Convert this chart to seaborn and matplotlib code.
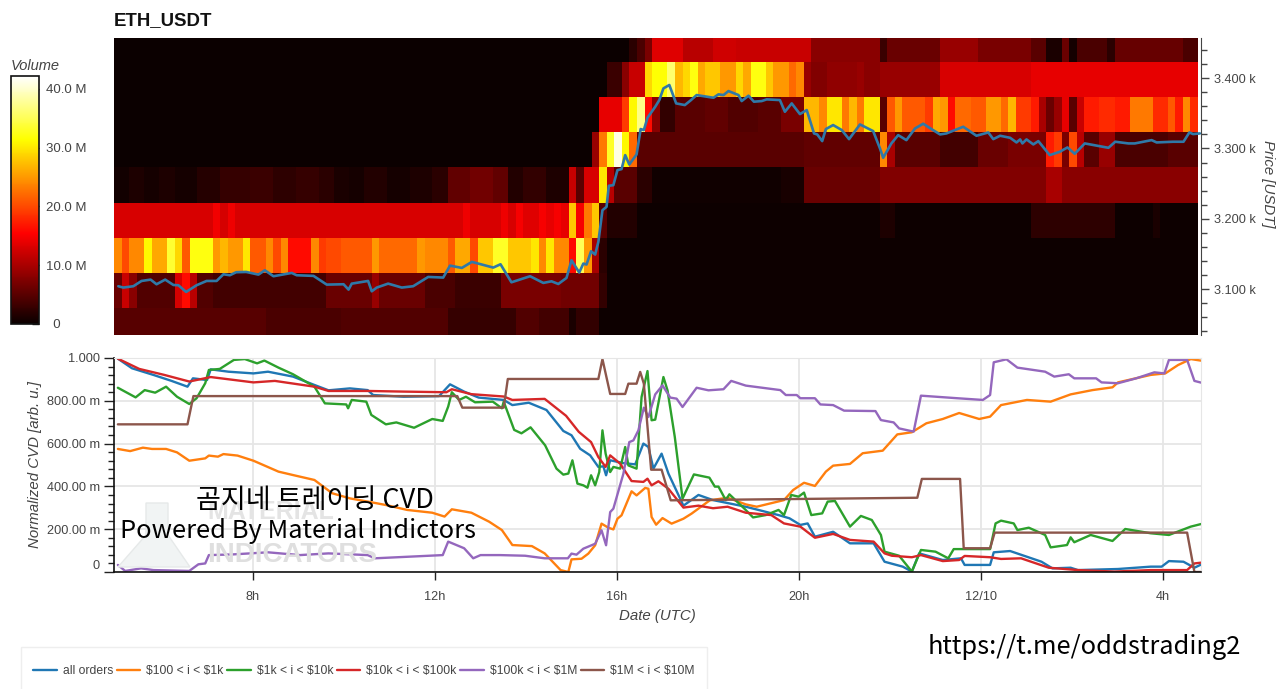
import numpy as np
import pandas as pd
import matplotlib
matplotlib.use('Agg')
import matplotlib.pyplot as plt
from matplotlib.patches import Polygon, Rectangle
import seaborn as sns

sns.set_style('white')
plt.rcParams['font.family'] = ['Liberation Sans', 'Noto Sans CJK KR', 'DejaVu Sans']

# Volume heatmap: 10 minute bins, each row is (first bin of a run, volume in M)
n_bins = 143
price_bins = [3448, 3398, 3348, 3298, 3248, 3198, 3148, 3098, 3048]

r3448_s = [0, 68, 69, 70, 71, 75, 79, 82, 92, 101, 102, 109, 114, 121, 123, 125, 126, 127, 131, 132, 141]
r3448_v = [0.1, 2, 4, 7, 13.5, 11, 12.5, 12, 8, 3, 6, 9, 7, 5, 1, 6, 0.7, 4, 2, 5.8, 4]

r3398_s = [0, 65, 67, 68, 70, 71, 73, 74, 75, 76, 77, 78, 80, 82, 83, 84, 86, 87, 89, 90, 91, 92, 94, 98, 99, 101, 109, 121]
r3398_v = [0.1, 3, 8, 12, 29, 31.5, 36, 27, 29, 32, 26, 28, 25, 29, 26, 32, 28, 25, 22, 24, 9, 7.5, 8.5, 9, 8, 9, 13, 14]

r3348_s = [0, 64, 67, 68, 69, 70, 71, 72, 74, 78, 81, 85, 88, 91, 93, 94, 96, 97, 98, 99, 101, 102, 103, 104, 107, 108,
           109, 110, 111, 113, 115, 117, 118, 119, 121, 122, 123, 124, 125, 126, 127, 128, 130, 132, 134, 137, 139, 140, 141, 142]
r3348_v = [0.1, 14, 19, 31, 37, 16, 8, 2.5, 5, 5.5, 4.5, 5, 7, 27, 24, 30, 23, 27, 23, 30, 5, 21, 25, 21, 19, 26,
           25, 16, 22, 21, 25, 22, 27, 19, 17, 10, 6, 9, 14, 5, 12, 17, 18, 17, 23, 18, 21, 17, 24, 18]

r3298_s = [0, 63, 64, 65, 66, 67, 68, 69, 91, 101, 102, 103, 109, 114, 118, 123, 124, 125, 126, 127, 128, 130, 132, 139]
r3298_v = [0.1, 9, 23, 33, 41, 31, 22, 5, 5.5, 24, 10, 5, 3.5, 6, 7, 17, 19, 7, 20, 11, 5, 9, 4, 5]

r3248_s = [0, 2, 4, 6, 8, 11, 14, 18, 21, 24, 27, 29, 31, 33, 36, 39, 42, 44, 47, 50, 52, 54, 57, 60, 61, 62, 64, 65, 66,
           69, 71, 88, 91, 101, 123, 125]
r3248_v = [0.5, 1.2, 0.7, 1.3, 0.7, 1.8, 2.8, 3, 2.2, 2.8, 2, 1, 0.8, 1.6, 0.8, 1.2, 2, 5.5, 6.5, 5.5, 1.5, 2.5, 1.2, 12, 5, 13, 30, 11, 5,
           2, 0.4, 0.9, 6, 7.5, 10, 8]

r3198_s = [0, 13, 14, 15, 16, 46, 47, 51, 52, 53, 54, 56, 57, 58, 59, 60, 61, 62, 63, 64, 65, 69, 101, 103, 121, 132, 137, 138]
r3198_v = [13, 14.6, 12.7, 14.4, 13, 14.4, 13, 14.4, 13, 15, 13.5, 15, 14, 15, 14, 28, 15, 23, 28, 5, 1.5, 0.3, 1.2, 0.2, 2.2, 0.2, 1, 0.2]

r3148_s = [0, 1, 2, 4, 5, 7, 8, 9, 10, 13, 14, 15, 17, 18, 20, 21, 22, 23, 26, 27, 28, 30, 34, 35, 40, 41, 44, 45, 47, 48,
           50, 52, 55, 56, 57, 58, 60, 61, 62, 63, 64, 65]
r3148_v = [24, 20, 24, 31, 26, 33.5, 29, 21, 32, 25, 27, 25, 30, 21, 24, 20, 24, 16, 24, 19, 20, 21, 25, 22, 25, 24, 21, 26, 20, 28,
           33, 28, 30, 24, 30, 24, 16, 35, 25, 10, 2, 0.2]

r3098_s = [0, 1, 2, 3, 8, 9, 10, 11, 13, 28, 34, 35, 41, 45, 51, 59, 64, 65]
r3098_v = [6, 12, 8, 4.5, 13, 16, 11, 4.5, 3.5, 6, 9, 6, 4, 3, 7, 6.5, 2.5, 0.2]

r3048_s = [0, 20, 30, 44, 53, 56, 60, 61, 64]
r3048_v = [4.8, 4, 4.5, 2.8, 4.5, 3.5, 1, 2.5, 0.2]

# Price line: hours since 12/09 00:00 and price in USDT
price_t = [5.04, 5.15, 5.37, 5.55, 5.75, 5.88, 6.07, 6.25, 6.36, 6.53, 6.76, 6.98, 7.20, 7.35, 7.49, 7.63, 7.85, 8.12, 8.26, 8.45,
           8.85, 8.96, 9.33, 9.62, 9.99, 10.1, 10.17, 10.53, 10.61, 10.72, 10.97, 11.27, 11.52, 11.85, 12.18, 12.33, 12.59, 12.81,
           13.28, 13.44, 13.68, 14.09, 14.38, 14.56, 14.71, 14.89, 15.0, 15.17, 15.26, 15.33, 15.43, 15.52, 15.59, 15.68, 15.77,
           15.82, 15.92, 16.01, 16.10, 16.18, 16.27, 16.43, 16.52, 16.59, 16.67, 16.84, 16.93, 17.02, 17.15, 17.30, 17.49, 17.61,
           17.75, 18.12, 18.23, 18.34, 18.45, 18.67, 18.74, 18.89, 19.01, 19.18, 19.29, 19.58, 19.69, 19.84, 20.02, 20.17, 20.33,
           20.40, 20.51, 20.59, 20.75, 20.94, 21.10, 21.34, 21.63, 21.78, 21.85, 22.03, 22.18, 22.36, 22.55, 22.73, 22.91, 23.10,
           23.24, 23.61, 23.90, 24.16, 24.27, 24.42, 24.64, 24.78, 24.86, 24.91, 25.0, 25.15, 25.26, 25.51, 25.73, 25.90, 26.06,
           26.28, 26.80, 26.95, 27.24, 27.38, 27.75, 27.86, 28.22, 28.45, 28.58, 28.66, 28.81]
price_v = [3104.3, 3102.4, 3104.3, 3111.8, 3113.7, 3107.1, 3113.7, 3106.1, 3105.7, 3096.2, 3105.7, 3111.8, 3111.8, 3121.3, 3119.9, 3124.2,
           3124.6, 3120.8, 3127, 3118.5, 3123.2, 3119.9, 3119, 3106.6, 3107.1, 3099.5, 3108, 3111.8, 3097.1, 3102.4, 3108, 3102.4, 3104.3,
           3117.5, 3116.6, 3133.6, 3130.3, 3138.9, 3130.8, 3135.5, 3109.9, 3118.5, 3109, 3111.3, 3107.5, 3116.1, 3141.2, 3123.7, 3136.5,
           3135.1, 3154, 3149.3, 3167.3, 3212.3, 3217.1, 3247, 3247.9, 3269.3, 3270.7, 3290.6, 3277.3, 3291.5, 3327.6, 3326.2, 3343.7,
           3359.3, 3368.8, 3385.4, 3390.2, 3364.1, 3361.7, 3367.9, 3375.9, 3372.1, 3376.9, 3375.9, 3381.6, 3375.9, 3367.4, 3375, 3366.5,
           3367.4, 3369.8, 3368.8, 3352.2, 3364.1, 3348.9, 3354.6, 3321.4, 3320, 3310.5, 3327.6, 3333.3, 3326.2, 3313.3, 3334.2, 3324.7,
           3300, 3286.8, 3307.2, 3319, 3311.9, 3328.5, 3335.2, 3327.6, 3320, 3321.4, 3330.9, 3318.1, 3322.8, 3313.3, 3318.1, 3315.2,
           3308.6, 3312.9, 3307.2, 3312.9, 3305.8, 3310.5, 3290.6, 3295.3, 3301.5, 3292.5, 3307.2, 3301, 3309.6, 3307.2, 3307.2, 3311.9,
           3308.6, 3309.6, 3309.6, 3322.8, 3320.5, 3321.4]

# Normalized CVD per order size
all_t = [5.03, 5.34, 5.81, 6.21, 6.56, 6.68, 6.99, 7.07, 7.46, 8.01, 8.33, 8.88, 9.35, 9.66, 10.13, 10.52, 10.64, 11.31, 12.09, 12.33, 12.64,
         12.96, 13.51, 13.70, 14.06, 14.45, 14.82, 15.0, 15.19, 15.41, 15.59, 15.70, 15.76, 15.85, 16.14, 16.40, 16.58, 16.69, 16.80, 16.98,
         17.13, 17.46, 17.79, 18.11, 18.83, 19.55, 19.79, 20.03, 20.19, 20.35, 20.75, 21.12, 21.64, 21.88, 22.28, 22.48, 22.64, 23.16, 23.56,
         23.64, 24.20, 24.28, 24.64, 25.33, 25.57, 25.97, 26.13, 27.01, 27.73, 27.97, 28.13, 28.45, 28.69, 28.89]
all_v = [0.997, 0.952, 0.921, 0.893, 0.866, 0.905, 0.897, 0.947, 0.936, 0.928, 0.936, 0.913, 0.874, 0.849, 0.858, 0.850, 0.827, 0.819, 0.822,
         0.877, 0.843, 0.815, 0.804, 0.780, 0.791, 0.757, 0.659, 0.639, 0.576, 0.545, 0.491, 0.494, 0.452, 0.522, 0.509, 0.503, 0.600, 0.584,
         0.483, 0.553, 0.460, 0.310, 0.360, 0.336, 0.305, 0.266, 0.251, 0.220, 0.227, 0.165, 0.188, 0.134, 0.134, 0.048, 0.025, 0.002, 0.087,
         0.056, 0.064, 0.033, 0.033, 0.092, 0.098, 0.048, 0.017, 0.020, 0.009, 0.014, 0.025, 0.025, 0.051, 0.048, 0.020, 0.040]

k1_t = [5.03, 5.30, 5.58, 5.78, 6.09, 6.33, 6.60, 6.95, 7.03, 7.23, 7.35, 7.66, 8.01, 8.56, 8.88, 9.35, 9.74, 10.13, 10.60, 10.92, 11.39, 11.94,
        12.21, 12.37, 12.80, 13.19, 13.47, 13.70, 14.13, 14.41, 14.76, 14.93, 15.0, 15.22, 15.37, 15.52, 15.66, 15.81, 15.92, 16.01, 16.10, 16.32,
        16.43, 16.62, 16.69, 16.76, 16.86, 17.0, 17.2, 17.46, 17.64, 18.04, 18.43, 18.83, 19.07, 19.67, 19.87, 20.11, 20.35, 20.59, 20.75, 21.12,
        21.40, 21.84, 22.16, 22.48, 22.80, 23.16, 23.52, 23.96, 24.20, 24.44, 25.01, 25.53, 25.97, 26.45, 26.89, 27.01, 27.73, 28.05, 28.33, 28.61, 28.89]
k1_v = [0.575, 0.565, 0.581, 0.575, 0.575, 0.559, 0.520, 0.531, 0.544, 0.539, 0.551, 0.544, 0.520, 0.469, 0.453, 0.430, 0.368, 0.344, 0.326, 0.313,
        0.290, 0.277, 0.259, 0.293, 0.277, 0.235, 0.196, 0.126, 0.121, 0.087, 0.009, 0.0, 0.059, 0.062, 0.086, 0.125, 0.226, 0.207, 0.199, 0.249,
        0.265, 0.377, 0.358, 0.393, 0.389, 0.257, 0.221, 0.252, 0.226, 0.249, 0.273, 0.335, 0.347, 0.316, 0.305, 0.336, 0.383, 0.417, 0.402, 0.469,
        0.497, 0.505, 0.555, 0.567, 0.643, 0.653, 0.695, 0.715, 0.743, 0.715, 0.726, 0.780, 0.804, 0.796, 0.830, 0.850, 0.863, 0.886, 0.921, 0.928,
        0.967, 0.995, 0.986]

k10_t = [5.03, 5.42, 5.62, 5.85, 6.09, 6.33, 6.60, 6.76, 6.95, 7.03, 7.27, 7.58, 7.82, 8.09, 8.25, 8.56, 8.88, 9.35, 9.58, 10.05, 10.09, 10.17,
         10.49, 10.60, 10.92, 11.15, 11.54, 11.94, 12.17, 12.29, 12.37, 12.53, 12.68, 12.88, 13.27, 13.47, 13.51, 13.74, 13.90, 14.10, 14.42, 14.67,
         14.82, 14.93, 15.02, 15.13, 15.26, 15.35, 15.43, 15.52, 15.61, 15.68, 15.75, 15.85, 15.92, 16.07, 16.18, 16.25, 16.43, 16.54, 16.67, 16.76,
         16.84, 17.02, 17.11, 17.27, 17.44, 17.69, 18.03, 18.15, 18.23, 18.39, 18.47, 18.79, 18.99, 19.27, 19.55, 19.67, 19.83, 19.99, 20.11, 20.27,
         20.51, 20.63, 20.79, 21.12, 21.36, 21.60, 21.80, 21.88, 22.20, 22.48, 22.68, 23.0, 23.28, 23.40, 24.20, 24.32, 24.44, 24.72, 24.80, 25.05,
         25.41, 25.53, 25.89, 25.97, 26.05, 26.41, 26.89, 27.17, 27.73, 28.13, 28.61, 28.89]
k10_v = [0.861, 0.816, 0.850, 0.838, 0.866, 0.819, 0.785, 0.812, 0.882, 0.944, 0.949, 0.991, 0.995, 0.975, 0.988, 0.955, 0.924, 0.866, 0.788, 0.783,
         0.765, 0.804, 0.796, 0.734, 0.690, 0.699, 0.674, 0.715, 0.706, 0.773, 0.840, 0.804, 0.819, 0.793, 0.796, 0.765, 0.796, 0.664, 0.648, 0.676,
         0.592, 0.483, 0.455, 0.460, 0.522, 0.413, 0.405, 0.394, 0.452, 0.405, 0.467, 0.662, 0.553, 0.467, 0.491, 0.483, 0.584, 0.498, 0.483, 0.818,
         0.939, 0.709, 0.712, 0.911, 0.849, 0.631, 0.343, 0.456, 0.441, 0.399, 0.399, 0.336, 0.363, 0.298, 0.255, 0.266, 0.290, 0.266, 0.360, 0.352,
         0.371, 0.266, 0.274, 0.329, 0.332, 0.212, 0.262, 0.243, 0.173, 0.095, 0.076, 0.002, 0.103, 0.095, 0.064, 0.107, 0.107, 0.227, 0.240, 0.227,
         0.196, 0.207, 0.173, 0.115, 0.126, 0.162, 0.139, 0.173, 0.145, 0.201, 0.181, 0.173, 0.212, 0.227]

k100_t = [5.03, 5.50, 6.05, 6.60, 7.07, 8.01, 8.48, 9.35, 9.66, 10.52, 11.31, 12.25, 12.37, 12.80, 13.51, 13.70, 14.41, 14.88, 15.16, 15.43, 15.59,
          15.75, 15.85, 16.07, 16.32, 16.58, 16.67, 16.76, 16.91, 17.13, 17.46, 17.79, 18.11, 18.43, 18.83, 19.39, 19.67, 20.03, 20.35, 20.75, 21.12,
          21.64, 21.88, 22.04, 22.48, 22.68, 23.16, 23.52, 23.64, 24.20, 24.44, 24.88, 25.49, 26.13, 26.93, 27.73, 28.53, 28.69, 28.89]
k100_v = [0.997, 0.949, 0.921, 0.890, 0.911, 0.886, 0.893, 0.866, 0.846, 0.846, 0.843, 0.840, 0.854, 0.831, 0.820, 0.804, 0.809, 0.730, 0.655, 0.607,
          0.537, 0.491, 0.545, 0.506, 0.425, 0.421, 0.436, 0.405, 0.424, 0.389, 0.301, 0.310, 0.298, 0.305, 0.277, 0.266, 0.227, 0.212, 0.160, 0.178,
          0.150, 0.142, 0.087, 0.076, 0.069, 0.079, 0.051, 0.056, 0.075, 0.069, 0.061, 0.064, 0.020, 0.009, 0.002, 0.009, 0.009, 0.040, 0.045]

m1_t = [5.03, 5.19, 5.54, 5.81, 6.60, 6.80, 6.95, 7.03, 7.54, 8.33, 9.03, 9.66, 10.52, 10.68, 12.17, 12.29, 12.64, 12.84, 13.0, 13.43, 13.98, 14.41,
        14.92, 15.0, 15.11, 15.26, 15.52, 15.66, 15.76, 15.85, 15.92, 16.14, 16.27, 16.36, 16.47, 16.59, 16.69, 16.84, 17.0, 17.17, 17.31, 17.44, 17.75,
        18.01, 18.34, 18.51, 18.83, 19.59, 19.71, 19.95, 20.03, 20.35, 20.47, 20.75, 20.99, 21.68, 21.80, 22.08, 22.20, 22.52, 22.68, 23.48, 24.04,
        24.20, 24.28, 24.56, 24.80, 25.41, 25.61, 25.93, 26.05, 26.53, 26.65, 27.01, 27.41, 27.81, 28.03, 28.13, 28.53, 28.69, 28.89]
m1_v = [0.033, 0.005, 0.017, 0.009, 0.005, 0.036, 0.040, 0.079, 0.082, 0.092, 0.079, 0.087, 0.079, 0.064, 0.079, 0.142, 0.111, 0.064, 0.079, 0.079,
        0.076, 0.064, 0.064, 0.086, 0.081, 0.109, 0.132, 0.195, 0.125, 0.280, 0.296, 0.459, 0.607, 0.615, 0.662, 0.768, 0.724, 0.830, 0.872, 0.815,
        0.810, 0.771, 0.861, 0.849, 0.854, 0.893, 0.871, 0.850, 0.827, 0.827, 0.812, 0.812, 0.783, 0.780, 0.754, 0.752, 0.710, 0.699, 0.671, 0.656,
        0.824, 0.812, 0.804, 0.827, 0.980, 0.994, 0.955, 0.936, 0.913, 0.924, 0.905, 0.905, 0.886, 0.882, 0.905, 0.933, 0.928, 0.991, 0.991, 0.893, 0.882]

m10_t = [5.03, 6.56, 6.69, 12.49, 12.60, 13.51, 13.60, 15.59, 15.68, 15.85, 16.18, 16.25, 16.43, 16.51, 16.59, 16.75, 16.98, 17.18, 22.60, 22.70, 23.54,
         23.62, 24.20, 24.30, 28.53, 28.69, 28.89]
m10_v = [0.690, 0.690, 0.822, 0.822, 0.768, 0.768, 0.902, 0.902, 0.995, 0.832, 0.832, 0.880, 0.880, 0.935, 0.880, 0.478, 0.478, 0.335, 0.347, 0.435, 0.435,
         0.111, 0.111, 0.184, 0.184, 0.0, 0.0]

# dollar signs escaped, matplotlib would read them as math otherwise
series_names = ['all orders', r'\$100 < i < \$1k', r'\$1k < i < \$10k', r'\$10k < i < \$100k', r'\$100k < i < \$1M', r'\$1M < i < \$10M']
series_t = [all_t, k1_t, k10_t, k100_t, m1_t, m10_t]
series_v = [all_v, k1_v, k10_v, k100_v, m1_v, m10_v]

hour_ticks = [8, 12, 16, 20, 24, 28]
hour_labels = ['8h', '12h', '16h', '20h', '12/10', '4h']
cvd_ticks = [0, 0.2, 0.4, 0.6, 0.8, 1.0]
cvd_labels = ['0', '200.00 m', '400.00 m', '600.00 m', '800.00 m', '1.000']
price_ticks = [3100, 3200, 3300, 3400]
price_labels = ['3.100 k', '3.200 k', '3.300 k', '3.400 k']
vol_ticks = [0, 10, 20, 30, 40]
vol_labels = ['  0', '10.0 M', '20.0 M', '30.0 M', '40.0 M']

W, H = 1280, 689
GREY = '#444444'


def box(x0, y0, x1, y1):
    # pixel box of the reference to figure fractions
    return [x0 / W, 1 - y1 / H, (x1 - x0) / W, (y1 - y0) / H]


def fpt(x, y):
    return x / W, 1 - y / H


def expand(starts, vals):
    return np.repeat(vals, np.diff(starts + [n_bins]))


volume = pd.DataFrame(
    [expand(r3448_s, r3448_v), expand(r3398_s, r3398_v), expand(r3348_s, r3348_v),
     expand(r3298_s, r3298_v), expand(r3248_s, r3248_v), expand(r3198_s, r3198_v),
     expand(r3148_s, r3148_v), expand(r3098_s, r3098_v), expand(r3048_s, r3048_v)],
    index=price_bins)

fig = plt.figure(figsize=(W / 100, H / 100), dpi=100)
ax_heat = fig.add_axes(box(114, 38, 1198, 335))
ax_price = fig.add_axes(box(114, 38, 1201, 335))
ax_cvd = fig.add_axes(box(114, 358, 1201, 572))
cax = fig.add_axes(box(11, 76, 39, 324))

# Heatmap and colorbar
sns.heatmap(volume, ax=ax_heat, cbar_ax=cax, cmap='hot', vmin=0, vmax=42.2,
            xticklabels=False, yticklabels=False)
ax_heat.set_ylim(8.76, 0.32)

cbar = ax_heat.collections[0].colorbar
cbar.outline.set_linewidth(1.2)
cbar.outline.set_edgecolor('#111111')
cbar.set_ticks(vol_ticks, labels=vol_labels)
cax.tick_params(axis='y', direction='in', length=5, width=1, color='#222222',
                labelcolor=GREY, labelsize=9.5, pad=5)
cax.tick_params(which='minor', length=0)
cax.text(0, 1.012, 'Volume', transform=cax.transAxes, style='italic', fontsize=10.5,
         color=GREY, ha='left', va='bottom')

# Price line over the heatmap
ax_price.patch.set_alpha(0)
sns.lineplot(x=price_t, y=price_v, ax=ax_price, color='#2f79a8', linewidth=1.9, sort=False,
             estimator=None)
ax_price.set_xlim(4.945, 28.835)
ax_price.set_ylim(3035, 3457)
ax_price.set_xticks([])
ax_price.yaxis.tick_right()
ax_price.set_yticks(price_ticks, labels=price_labels)
ax_price.set_yticks(np.arange(3040, 3460, 20), minor=True)
ax_price.tick_params(axis='y', which='major', left=False, right=True, length=6, width=1, color=GREY,
                     labelcolor=GREY, labelsize=9.2, pad=3, direction='out')
ax_price.tick_params(axis='y', which='minor', left=False, right=True, length=4, width=1, color=GREY)
for side in ['top', 'left', 'bottom']:
    ax_price.spines[side].set_visible(False)
ax_price.spines['right'].set_color(GREY)
ax_price.yaxis.set_label_position('right')
ax_price.set_ylabel('Price [USDT]', rotation=270, style='italic', fontsize=10.8, color=GREY)
ax_price.yaxis.set_label_coords(1.068, 0.51)
ax_price.set_title('ETH_USDT', loc='left', fontweight='bold', fontsize=13.4, color='#111111', pad=9)

# Normalized CVD lines
frames = []
for name, t, v in zip(series_names, series_t, series_v):
    frames.append(pd.DataFrame({'hour': t, 'cvd': v, 'order size': name}))
cvd = pd.concat(frames, ignore_index=True)

palette = dict(zip(series_names, sns.color_palette('tab10', 6)))
sns.lineplot(data=cvd, x='hour', y='cvd', hue='order size', hue_order=series_names, palette=palette,
             ax=ax_cvd, linewidth=1.7, estimator=None, sort=False)
ax_cvd.set_xlim(4.945, 28.835)
ax_cvd.set_ylim(0, 1)
ax_cvd.set_xticks(hour_ticks, labels=hour_labels)
ax_cvd.set_yticks(cvd_ticks, labels=cvd_labels)
ax_cvd.set_yticks(np.arange(0, 1.0001, 0.04), minor=True)
ax_cvd.tick_params(axis='x', which='major', bottom=True, length=6, width=1, color='#222222',
                   labelcolor=GREY, labelsize=9.2, pad=8)
ax_cvd.tick_params(axis='y', which='major', left=True, length=7, width=1, color='#222222',
                   labelcolor=GREY, labelsize=9.2, pad=3)
ax_cvd.tick_params(axis='y', which='minor', left=True, length=4, width=1, color='#222222')
ax_cvd.get_yticklabels()[0].set_va('bottom')
ax_cvd.grid(True, which='major', color='#e6e6e6', linewidth=1.3)
ax_cvd.set_axisbelow(True)
for side in ['top', 'right']:
    ax_cvd.spines[side].set_color('#e6e6e6')
for side in ['left', 'bottom']:
    ax_cvd.spines[side].set_color('#111111')
    ax_cvd.spines[side].set_linewidth(1.2)
ax_cvd.set_xlabel('Date (UTC)', style='italic', fontsize=10.8, color=GREY)
ax_cvd.xaxis.set_label_coords(0.5, -0.172)
ax_cvd.set_ylabel('Normalized CVD [arb. u.]', style='italic', fontsize=10.8, color=GREY)
ax_cvd.yaxis.set_label_coords(-0.066, 0.5)

# Legend strip at the bottom
handles, labels = ax_cvd.get_legend_handles_labels()
ax_cvd.get_legend().remove()
fig.add_artist(Rectangle(fpt(21, 697), 686 / W, 50 / H, transform=fig.transFigure,
                         facecolor='white', edgecolor='#eeeeee', linewidth=1))
fig.legend(handles, labels, ncols=6, frameon=False, loc='center left', bbox_to_anchor=fpt(33, 671),
           borderpad=0, borderaxespad=0, handlelength=1.95, handletextpad=0.5, columnspacing=0.3,
           labelcolor=GREY, fontsize=8.7)

# Watermark behind the overlaid captions
flask = Polygon([fpt(146, 503), fpt(168, 503), fpt(168, 535), fpt(190, 567), fpt(118, 567), fpt(146, 535)],
                closed=True, transform=fig.transFigure, facecolor='#f1f4f4', edgecolor='#e6e9e9', zorder=3)
fig.add_artist(flask)
fig.text(*fpt(207, 512), 'MATERIAL', fontsize=18, fontweight='bold', color='#e4e4e4', va='center', zorder=4)
fig.text(*fpt(207, 555), 'INDICATORS', fontsize=20, fontweight='bold', color='#dfdfdf', va='center', zorder=4)

caption_font = ['Noto Sans CJK KR', 'DejaVu Sans']
fig.text(*fpt(315, 501), '곰지네 트레이딩 CVD', family=caption_font, fontsize=19.5, color='black',
         ha='center', va='center', zorder=6)
fig.text(*fpt(298, 531), 'Powered By Material Indictors', family=caption_font, fontsize=18.3, color='black',
         ha='center', va='center', zorder=6)
fig.text(*fpt(1084, 647), 'https://t.me/oddstrading2', family=caption_font, fontsize=18.3, color='black',
         ha='center', va='center', zorder=6)

fig.savefig('out.png', dpi=100)
